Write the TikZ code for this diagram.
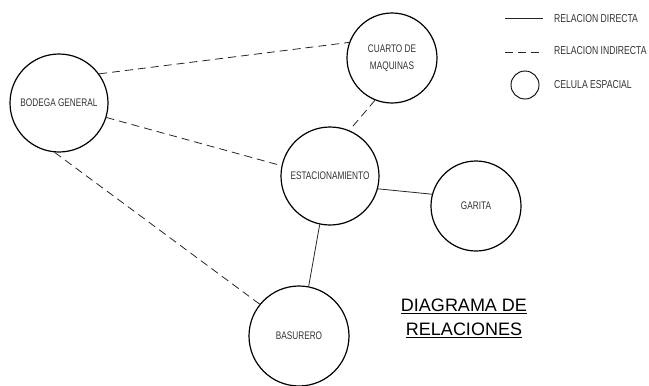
\documentclass[tikz,border=0pt]{standalone}
\usepackage{fontspec}
\setmainfont{Liberation Sans}
\newfontfamily\handfont[FakeStretch=0.75]{Liberation Sans}
\begin{document}
\begin{tikzpicture}[x=1pt,y=-1pt,
  cell/.style={draw=black, line width=1.2pt, circle, inner sep=0pt, minimum size=#1,
    font=\handfont\fontsize{11}{12}\selectfont, text=black!80, align=center},
  direct/.style={draw=black!85, line width=0.8pt},
  indirect/.style={draw=black!85, line width=0.8pt, dash pattern=on 8pt off 5pt},
  legtext/.style={anchor=west, font=\handfont\fontsize{11.5}{12}\selectfont, text=black!80, inner sep=0pt},
  title/.style={font=\fontsize{18}{22}\selectfont, inner sep=0pt}]
\useasboundingbox (0,0) rectangle (649,386);

% spatial cells
\node[cell=98pt] (bodega) at (59,103) {BODEGA GENERAL};
\node[cell=90pt] (cuarto) at (392,58) {CUARTO DE\\[5pt]MAQUINAS};
\node[cell=98pt] (estac) at (330,176) {ESTACIONAMIENTO};
\node[cell=90pt] (garita) at (476,206) {GARITA};
\node[cell=100pt] (basurero) at (299,336) {BASURERO};

% relations
\draw[indirect] (bodega.36) -- (cuarto.160);
\draw[indirect] (bodega.-17) -- (estac.168);
\draw[indirect] (bodega.-95) -- (basurero.141);
\draw[indirect] (cuarto.-112) -- (estac.67);
\draw[direct] (estac.-15) -- (garita.165);
\draw[direct] (estac.-102) -- (basurero.79);

% legend
\coordinate (l1a) at (505,18); \coordinate (l1b) at (543,18);
\coordinate (l2a) at (505,52); \coordinate (l2b) at (543,52);
\draw[direct] (l1a) -- (l1b);
\draw[indirect] (l2a) -- (l2b);
\node[draw=black, line width=0.9pt, circle, inner sep=0pt, minimum size=28pt] (lcell) at (525,85) {};
\node[legtext] (t1) at (554,19) {RELACION DIRECTA};
\node[legtext] (t2) at (554,51) {RELACION INDIRECTA};
\node[legtext] (t3) at (554,85) {CELULA ESPACIAL};

% title
\node[title] (title1) at (464,306) {\underline{DIAGRAMA DE}};
\node[title] (title2) at (464,330) {\underline{RELACIONES}};
\end{tikzpicture}
\end{document}
